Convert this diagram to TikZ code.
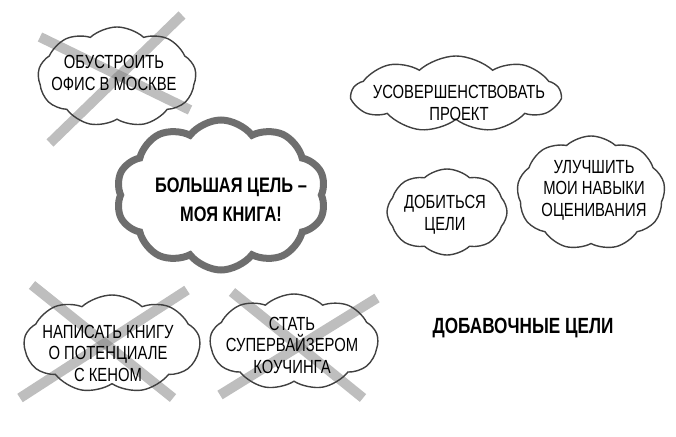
\documentclass[tikz,border=0pt]{standalone}
\usepackage{fontspec}
\setmainfont{Liberation Sans}[FakeStretch=0.78]
\usetikzlibrary{shapes.symbols,positioning}

\begin{document}
\begin{tikzpicture}[x=1pt,y=-1pt,
  goal/.style={cloud,cloud ignores aspect,cloud puffs=9,cloud puff arc=85,
    draw=black!75,line width=1.4pt,inner sep=0pt},
  biggoal/.style={goal,cloud puffs=10,cloud puff arc=105,draw=black!57,line width=7pt},
  txt/.style={align=center,inner sep=0pt,font=\fontsize{19}{21.5}\selectfont},
  bigtxt/.style={txt,font=\fontsize{21}{29}\selectfont\bfseries},
  cross/.style={line width=10pt,draw=black!51,opacity=0.5}]
  \useasboundingbox (0,0) rectangle (676,436);

  % crossed out goals
  \coordinate (o1) at (40,37);   \coordinate (o2) at (190,110);
  \coordinate (o3) at (182,15);  \coordinate (o4) at (50,143);
  \coordinate (b1) at (32,285);  \coordinate (b2) at (173,398);
  \coordinate (b3) at (187,290); \coordinate (b4) at (20,398);
  \coordinate (s1) at (232,292); \coordinate (s2) at (363,398);
  \coordinate (s3) at (377,298); \coordinate (s4) at (220,395);
  \draw[cross] (o1) -- (o2);
  \draw[cross] (o3) -- (o4);
  \draw[cross] (b1) -- (b2);
  \draw[cross] (b3) -- (b4);
  \draw[cross] (s1) -- (s2);
  \draw[cross] (s3) -- (s4);

  % clouds
  \node[goal,minimum width=158pt,minimum height=100pt] (office cloud) at (117,77) {};
  \node[biggoal,minimum width=210pt,minimum height=150pt] (main cloud) at (221,195) {};
  \node[goal,minimum width=208pt,minimum height=76pt] (project cloud) at (456,94) {};
  \node[goal,cloud puffs=8,minimum width=120pt,minimum height=86pt] (reach cloud) at (447,212) {};
  \node[goal,minimum width=148pt,minimum height=114pt] (skills cloud) at (591,193) {};
  \node[goal,minimum width=176pt,minimum height=98pt] (book cloud) at (112,344) {};
  \node[goal,minimum width=168pt,minimum height=96pt] (coach cloud) at (294,342) {};

  % texts
  \node[txt] (office) at (114,73) {ОБУСТРОИТЬ\\ОФИС В МОСКВЕ};
  \node[bigtxt] (main) at (231,200) {БОЛЬШАЯ ЦЕЛЬ –\\МОЯ КНИГА!};
  \node[txt] (project) at (459,103) {УСОВЕРШЕНСТВОВАТЬ\\ПРОЕКТ};
  \node[txt] (reach) at (445,215) {ДОБИТЬСЯ\\ЦЕЛИ};
  \node[txt] (skills) at (594,190) {УЛУЧШИТЬ\\МОИ НАВЫКИ\\ОЦЕНИВАНИЯ};
  \node[txt] (book) at (108,353) {НАПИСАТЬ КНИГУ\\О ПОТЕНЦИАЛЕ\\С КЕНОМ};
  \node[txt] (coach) at (292,345) {СТАТЬ\\СУПЕРВАЙЗЕРОМ\\КОУЧИНГА};

  \node[font=\fontsize{22}{24}\selectfont\bfseries] (extra) at (523,328) {ДОБАВОЧНЫЕ ЦЕЛИ};
\end{tikzpicture}
\end{document}
